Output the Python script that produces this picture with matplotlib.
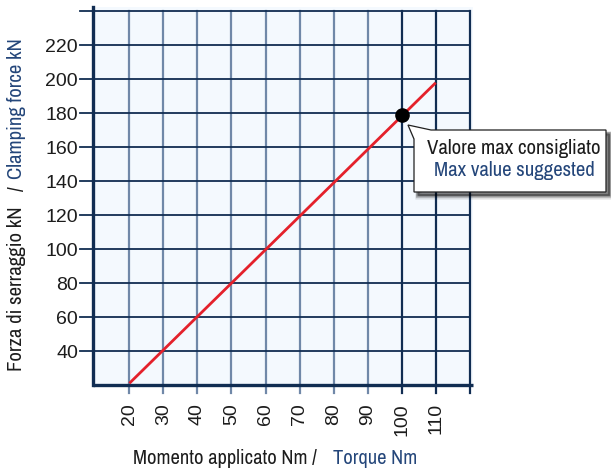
import matplotlib
matplotlib.use("Agg")
import matplotlib.pyplot as plt
from matplotlib.patches import Polygon
from matplotlib import font_manager

# ---------------- data ----------------
torque = [20, 110]              # Nm
clamping_force = [21, 198]      # kN
max_torque = 100
max_force = 179

x_ticks = [20, 30, 40, 50, 60, 70, 80, 90, 100, 110, 120]
x_labels = ["20", "30", "40", "50", "60", "70", "80", "90", "100", "110", ""]
y_ticks = [40, 60, 80, 100, 120, 140, 160, 180, 200, 220, 240]
y_labels = ["40", "60", "80", "100", "120", "140", "160", "180", "200", "220", ""]

xlabel_it = "Momento applicato Nm /"
xlabel_en = "Torque Nm"
ylabel_it = "Forza di serraggio kN"
ylabel_sep = "/"
ylabel_en = "Clamping force kN"
note_it = "Valore max consigliato"
note_en = "Max value suggested"

# ---------------- style ----------------
names = {f.name for f in font_manager.fontManager.ttflist}
FONT = "DejaVu Sans"
for cand in ["Liberation Sans Narrow", "Arial Narrow", "Archivo Narrow",
             "Roboto Condensed", "Liberation Sans"]:
    if cand in names:
        FONT = cand
        break
TICKFONT = "Liberation Sans" if "Liberation Sans" in names else "DejaVu Sans"
plt.rcParams["font.family"] = [FONT, "DejaVu Sans"]

W, H = 611, 473
DARK = "#112d52"
LIGHT = "#7088a8"
BLUE = "#24467a"
TXT = "#1c1c1c"
RED = "#e4212b"

fig = plt.figure(figsize=(W / 100, H / 100), dpi=100)
r = fig.canvas.get_renderer()


def fit(txt, target_px):
    p = fig.text(0, 0, txt, fontsize=10)
    w = p.get_window_extent(r).width
    p.remove()
    return 10 * target_px / w


FS_X = fit(xlabel_it, 184)
FS_Y = 0.5 * (fit(ylabel_en, 140) + fit(ylabel_it, 165))
FS_N = fit(note_it, 174)
FS_T = 14

ax = fig.add_axes([93.3 / W, 1 - 385 / H, 379.5 / W, 378 / H])
ax.set_xlim(9.4, 120.9)
ax.set_ylim(20, 242.6)
ax.set_facecolor("#f4f9fe")

for xv in x_ticks:
    col = LIGHT if xv < 100 else DARK
    ax.plot([xv, xv], [15.2, 240], color=col, lw=1.6, clip_on=False, zorder=1)
for yv in y_ticks:
    ax.plot([5.6, 120], [yv, yv], color=DARK, lw=1.3, clip_on=False, zorder=1)

ax.set_xticks(x_ticks)
ax.set_xticklabels(x_labels, rotation=90, va="top", ha="center", family=TICKFONT)
ax.set_yticks(y_ticks)
ax.set_yticklabels(y_labels, family=TICKFONT)
ax.tick_params(axis="both", length=0, labelsize=FS_T, labelcolor=TXT)
ax.tick_params(axis="x", pad=13)
ax.tick_params(axis="y", pad=11)

for s in ("top", "right"):
    ax.spines[s].set_visible(False)
for s in ("left", "bottom"):
    ax.spines[s].set_color(DARK)
    ax.spines[s].set_linewidth(2.4)
    ax.spines[s].set_zorder(3)
ax.spines["bottom"].set_capstyle("butt")

ax.plot(torque, clamping_force, color=RED, lw=2.0, zorder=4, solid_capstyle="butt")
ax.plot([max_torque], [max_force], "o", color="black", ms=9.5, zorder=5)

# ---------------- callout ----------------
def fp(pts):
    return [(x / W, 1 - y / H) for x, y in pts]

box = [(408, 125), (414, 139), (414, 192), (606, 192), (606, 130), (431, 130)]
for k, a in ((3, 0.10), (2, 0.18), (1, 0.25)):
    sh = [(x + 3 + k * 0.5, y + 3 + k * 0.5) for x, y in box]
    fig.patches.append(Polygon(fp(sh), closed=True, transform=fig.transFigure,
                               facecolor="#000000", edgecolor="#000000", lw=k * 1.5,
                               alpha=a, zorder=5))
fig.patches.append(Polygon(fp(box), closed=True, transform=fig.transFigure,
                           facecolor="white", edgecolor="#202020", lw=0.9, zorder=6))
fig.text(514 / W, 1 - 148 / H, note_it, ha="center", va="center", fontsize=FS_N,
         color=TXT, zorder=7)
fig.text(514 / W, 1 - 170 / H, note_en, ha="center", va="center", fontsize=FS_N,
         color=BLUE, zorder=7)

# ---------------- axis titles (two colours) ----------------
fig.text(133 / W, 1 - 458 / H, xlabel_it, ha="left", va="center", fontsize=FS_X, color=TXT)
fig.text(333 / W, 1 - 458 / H, xlabel_en, ha="left", va="center", fontsize=FS_X, color=BLUE)

fig.text(17 / W, 1 - 371 / H, ylabel_it, ha="center", va="bottom", rotation=90,
         fontsize=FS_Y, color=TXT)
fig.text(17 / W, 1 - 189 / H, ylabel_sep, ha="center", va="center", rotation=90,
         fontsize=FS_Y, color=TXT)
fig.text(17 / W, 1 - 38 / H, ylabel_en, ha="center", va="top", rotation=90,
         fontsize=FS_Y, color=BLUE)

fig.savefig("out.png", dpi=100)
